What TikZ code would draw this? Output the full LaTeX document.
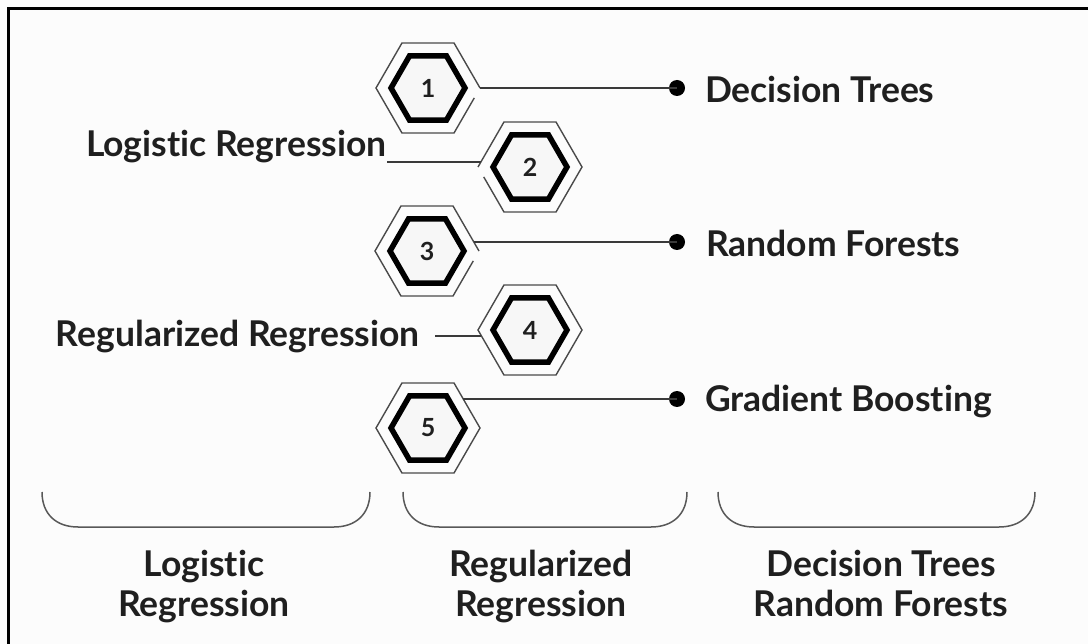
\documentclass[tikz,border=0pt]{standalone}
\usepackage{fontspec}
\setmainfont{Lato}[Ligatures={NoCommon,NoRare}]
\usetikzlibrary{shapes.geometric,calc}

\definecolor{ink}{HTML}{1F1F1F}
\definecolor{wire}{HTML}{3A3A3A}
\definecolor{rim}{HTML}{4A4A4A}
\definecolor{paper}{HTML}{FCFCFC}
\definecolor{cellfill}{HTML}{F7F7F7}

\tikzset{
  label text/.style={inner sep=0pt, outer sep=0pt, text=ink,
    font=\fontsize{35.5}{40}\selectfont\bfseries},
  hexframe/.style={regular polygon, regular polygon sides=6,
    minimum size=104pt, inner sep=0pt, outer sep=0pt, draw=none},
  hexcell/.style={regular polygon, regular polygon sides=6,
    minimum size=74pt, inner sep=0pt, outer sep=0pt, draw=black,
    line width=5.5pt, fill=cellfill, text=ink,
    font=\fontsize{25}{28}\selectfont\bfseries},
  rimline/.style={draw=rim, line width=1.4pt, line join=miter},
  conn/.style={draw=wire, line width=1.6pt},
  dotmark/.style={circle, fill=black, minimum size=16pt, inner sep=0pt},
  bracket/.style={draw=wire!85, line width=1.5pt}
}

\begin{document}
\begin{tikzpicture}[x=1pt, y=-1pt]
  \useasboundingbox (0,0) rectangle (1088,644);
  \fill[paper] (0,0) rectangle (1088,644);
  % frame (runs off the right and bottom edges)
  \draw[line width=3pt, black] (8,660) -- (8,9) -- (1100,9);

  % hexagon frames (outer) and numbered cells (inner)
  \node[hexframe] (h1) at (428,88)  {};
  \node[hexframe] (h2) at (530,167) {};
  \node[hexframe] (h3) at (427,251) {};
  \node[hexframe] (h4) at (530,330) {};
  \node[hexframe] (h5) at (428,428) {};

  \begin{scope}[shift={(h1)}]
    \draw[rimline] ($(0:52)!0.22!(60:52)$) -- (60:52) -- (120:52) -- (180:52)
      -- (240:52) -- (300:52) -- (0:52);
  \end{scope}
  \begin{scope}[shift={(h2)}]
    \draw[rimline] ($(180:52)!0.22!(120:52)$) -- (120:52) -- (60:52) -- (0:52)
      -- (300:52) -- (240:52) -- (180:52);
  \end{scope}
  \begin{scope}[shift={(h3)}]
    \draw[rimline] ($(0:52)!0.22!(60:52)$) -- (60:52) -- (120:52) -- (180:52)
      -- (240:52) -- (300:52) -- (0:52);
  \end{scope}
  \begin{scope}[shift={(h4)}]
    \draw[rimline] (0:52) -- (60:52) -- (120:52) -- (180:52)
      -- (240:52) -- (300:52) -- cycle;
  \end{scope}
  \begin{scope}[shift={(h5)}]
    \draw[rimline] (0:52) -- (60:52) -- (120:52) -- (180:52)
      -- (240:52) -- (300:52) -- cycle;
  \end{scope}

  \node[hexcell] (n1) at (h1) {1};
  \node[hexcell] (n2) at (h2) {2};
  \node[hexcell] (n3) at (h3) {3};
  \node[hexcell] (n4) at (h4) {4};
  \node[hexcell] (n5) at (h5) {5};

  % right-hand labels with their end dots
  \node[dotmark] (d1) at (677,88)  {};
  \node[dotmark] (d3) at (677,242) {};
  \node[dotmark] (d5) at (677,399) {};
  \node[label text, anchor=base west] (r1) at (705,103) {Decision Trees};
  \node[label text, anchor=base west] (r3) at (706,257) {Random Forests};
  \node[label text, anchor=base west] (r5) at (705,412) {Gradient Boosting};

  \draw[conn] (h1.east) -- (d1.center);
  \draw[conn] (h3.11 |- d3.center) -- (d3.center);
  \draw[conn] (h5.39 |- d5.center) -- (d5.center);

  % left-hand labels
  \node[label text, anchor=base west] (l2) at (86,157)  {Logistic Regression};
  \node[label text, anchor=base west] (l4) at (56,347)  {Regularized Regression};
  \coordinate (c4) at (435,336);
  \draw[conn] (h2.174) -- (h2.174 -| l2.east);
  \draw[conn] (c4) -- (h4.186 |- c4);

  % brackets along the bottom
  \draw[bracket] (42,492) .. controls (42,514) and (56,527) .. (78,527)
    -- (334,527) .. controls (356,527) and (370,514) .. (370,492);
  \draw[bracket] (403,492) .. controls (403,514) and (417,527) .. (439,527)
    -- (651,527) .. controls (673,527) and (687,514) .. (687,492);
  \draw[bracket] (718,492) .. controls (718,514) and (732,527) .. (754,527)
    -- (999,527) .. controls (1021,527) and (1035,514) .. (1035,492);

  % captions under the brackets
  \node[label text, anchor=base] (b1a) at (204,576) {Logistic};
  \node[label text, anchor=base] (b1b) at (204,616) {Regression};
  \node[label text, anchor=base] (b2a) at (541,576) {Regularized};
  \node[label text, anchor=base] (b2b) at (541,616) {Regression};
  \node[label text, anchor=base] (b3a) at (881,576) {Decision Trees};
  \node[label text, anchor=base] (b3b) at (881,616) {Random Forests};
\end{tikzpicture}
\end{document}
